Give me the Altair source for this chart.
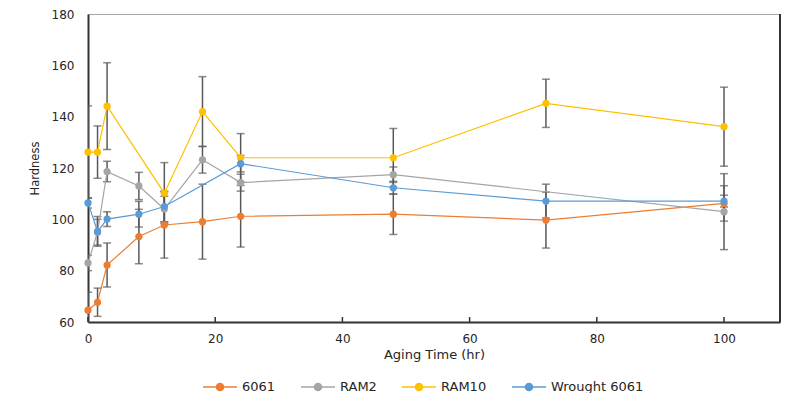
import altair as alt
import pandas as pd

series_names = ["6061", "RAM2", "RAM10", "Wrought 6061"]
series_colors = ["#ED7D31", "#A5A5A5", "#FFC000", "#5B9BD5"]

x_6061 = [0, 1.5, 3, 8, 12, 18, 24, 48, 72, 100]
y_6061 = [64.6, 67.7, 82.2, 93.3, 97.8, 99.1, 101.2, 102.0, 99.7, 106.2]
e_6061 = [7.0, 5.5, 8.6, 10.6, 12.9, 14.6, 12.0, 7.9, 10.9, 6.9]

x_ram2 = [0, 1.5, 3, 8, 12, 18, 24, 48, 100]
y_ram2 = [83.0, 95.0, 118.6, 113.0, 104.0, 123.2, 114.3, 117.4, 103.0]
e_ram2 = [3.0, 5.0, 4.0, 5.3, 5.0, 5.2, 3.3, 3.0, 14.8]

x_ram10 = [0, 1.5, 3, 12, 18, 24, 48, 72, 100]
y_ram10 = [126.2, 126.2, 144.1, 110.2, 142.0, 124.0, 124.0, 145.2, 136.1]
e_ram10 = [18.0, 10.2, 16.9, 11.9, 13.6, 9.4, 11.4, 9.4, 15.4]

x_wr = [0, 1.5, 3, 8, 12, 24, 48, 72, 100]
y_wr = [106.4, 95.3, 100.1, 102.0, 105.0, 121.7, 112.3, 107.1, 107.1]
e_wr = [2.0, 5.8, 2.9, 5.0, 6.0, 3.2, 2.5, 6.6, 2.3]

x_ticks = [0, 20, 40, 60, 80, 100]
y_ticks = [60, 80, 100, 120, 140, 160, 180]
x_max = [108.8]

rows = []
for name, xs, ys, es in [
    ("6061", x_6061, y_6061, e_6061),
    ("RAM2", x_ram2, y_ram2, e_ram2),
    ("RAM10", x_ram10, y_ram10, e_ram10),
    ("Wrought 6061", x_wr, y_wr, e_wr),
]:
    for xv, yv, ev in zip(xs, ys, es):
        rows.append({"series": name, "x": xv, "y": yv, "lo": yv - ev, "hi": yv + ev})
df = pd.DataFrame(rows)

FONT = "DejaVu Sans"
TXT = "#262626"
AXC = "#333333"
ERRC = "#595959"

xscale = alt.Scale(domain=[0, x_max[0]], nice=False, zero=False)
yscale = alt.Scale(domain=[60, 180], nice=False, zero=False)
cscale = alt.Scale(domain=series_names, range=series_colors)

xaxis = alt.Axis(values=x_ticks, title="Aging Time (hr)", grid=False, tickSize=0,
                 labelFlush=False, labelPadding=11, titlePadding=4,
                 domainColor=AXC, domainWidth=2,
                 labelFont=FONT, labelFontSize=12, labelColor=TXT,
                 titleFont=FONT, titleFontSize=13, titleFontWeight="normal", titleColor=TXT)
yaxis = alt.Axis(values=y_ticks, title="Hardness", grid=False, tickSize=0,
                 labelFlush=False, labelPadding=14, titlePadding=11,
                 domainColor=AXC, domainWidth=2,
                 labelFont=FONT, labelFontSize=12, labelColor=TXT,
                 titleFont=FONT, titleFontSize=11.5, titleFontWeight="normal", titleColor=TXT)

X = alt.X("x:Q", scale=xscale, axis=xaxis)
Y = alt.Y("y:Q", scale=yscale, axis=yaxis)

sym_path = "M-1,0H1M0.21,0A0.21,0.21,0,1,1,-0.21,0A0.21,0.21,0,1,1,0.21,0Z"
legend = alt.Legend(title=None, orient="none", direction="horizontal",
                    legendX=114, legendY=355, padding=0,
                    symbolType=sym_path, symbolSize=1156, symbolStrokeWidth=1.5,
                    labelFont=FONT, labelFontSize=13, labelColor=TXT,
                    labelOffset=4, columnPadding=22)

base = alt.Chart(df)

err_rule = base.mark_rule(color=ERRC, strokeWidth=1.5, clip=True).encode(
    x=X, y=alt.Y("lo:Q", scale=yscale, axis=yaxis), y2="hi:Q")
cap_lo = base.mark_tick(color=ERRC, thickness=1.5, size=8, orient="horizontal", clip=True).encode(
    x=X, y=alt.Y("lo:Q", scale=yscale, axis=yaxis))
cap_hi = base.mark_tick(color=ERRC, thickness=1.5, size=8, orient="horizontal", clip=True).encode(
    x=X, y=alt.Y("hi:Q", scale=yscale, axis=yaxis))

lines = base.mark_line(strokeWidth=1.2).encode(
    x=X, y=Y, stroke=alt.Stroke("series:N", scale=cscale, legend=legend))
points = base.mark_point(filled=True, size=52, opacity=1, strokeWidth=0).encode(
    x=X, y=Y, fill=alt.Fill("series:N", scale=cscale, legend=legend))

tick_marks = alt.Chart(pd.DataFrame({"x": x_ticks})).mark_rule(color=AXC, strokeWidth=1.5).encode(
    x=X, y=alt.value(303), y2=alt.value(308))
right_edge = alt.Chart(pd.DataFrame({"x": x_max})).mark_rule(color=AXC, strokeWidth=2).encode(
    x=X)

chart = alt.layer(err_rule, cap_lo, cap_hi, lines, points, tick_marks, right_edge).properties(
    width=692, height=308,
    autosize=alt.AutoSizeParams(type="none"),
    padding={"left": 80, "top": 6, "right": 1, "bottom": 71},
).configure_view(stroke="#a6a6a6", strokeWidth=1)

chart.save("out.html", embed_options={"renderer": "svg", "actions": False})
